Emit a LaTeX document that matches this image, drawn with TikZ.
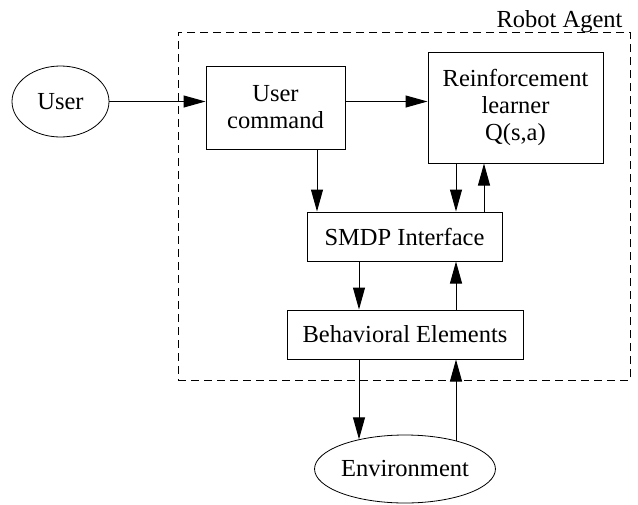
\documentclass[tikz,border=0pt]{standalone}
\usepackage{fontspec}
\setmainfont{Liberation Serif}
\newfontfamily\tmsfont{Liberation Serif}
\usetikzlibrary{shapes.geometric,arrows.meta}
\begin{document}
\begin{tikzpicture}[x=1pt,y=-1pt,
  every node/.style={font=\tmsfont\fontsize{24.5}{27}\selectfont},
  box/.style={draw, line width=1pt, inner sep=0pt, align=center},
  oval/.style={draw, ellipse, line width=0.8pt, inner sep=0pt},
  arr/.style={line width=1pt, -{Triangle[length=22pt,width=12pt]}},
  agentbox/.style={draw, line width=1pt, dash pattern=on 8pt off 5pt, inner sep=0pt}
]
\useasboundingbox (0,0) rectangle (638,504);
\node[agentbox, minimum width=452pt, minimum height=348pt] (agent) at (404,206) {};
\node[anchor=base east] (lbl) at (626,27) {Robot Agent};
\node[oval, minimum width=97pt, minimum height=71pt] (user) at (60.5,101.5) {User};
\node[box, minimum width=139pt, minimum height=83pt] (uc) at (275.5,107.5) {User\\command};
\node[box, minimum width=175pt, minimum height=111pt] (rl) at (515.5,107.5) {Reinforcement\\learner\\Q(s,a)};
\node[box, minimum width=195pt, minimum height=49pt] (smdp) at (404.5,236.5) {SMDP Interface};
\node[box, minimum width=236pt, minimum height=49pt] (beh) at (405,334.5) {Behavioral Elements};
\node[oval, minimum width=180pt, minimum height=68pt] (env) at (405,469) {Environment};
\draw[arr] (user.east) -- (user.east -| uc.west);
\draw[arr] (user.east -| uc.east) -- (user.east -| rl.west);
\draw[arr] (uc.south -| 317,0) -- (smdp.north -| 317,0);
\draw[arr] (rl.south -| 456,0) -- (smdp.north -| 456,0);
\draw[arr] (smdp.north -| 484,0) -- (rl.south -| 484,0);
\draw[arr] (smdp.south -| 359,0) -- (beh.north -| 359,0);
\draw[arr] (beh.north -| 456,0) -- (smdp.south -| 456,0);
\draw[arr] (beh.south -| 359,0) -- (env.147.6 -| 359,0);
\draw[arr] (env.28.8 -| 456,0) -- (beh.south -| 456,0);
\end{tikzpicture}
\end{document}
